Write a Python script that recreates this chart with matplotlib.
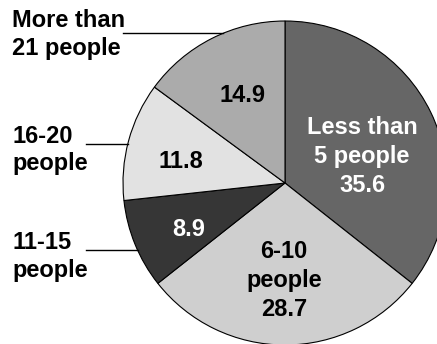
import numpy as np
import matplotlib.pyplot as plt

# group size shares (%), clockwise from 12 o'clock
categories = ["Less than\n5 people", "6-10\npeople", "11-15\npeople", "16-20\npeople", "More than\n21 people"]
shares = [35.6, 28.7, 8.9, 11.8, 14.9]
colors = ["#666666", "#cfcfcf", "#363636", "#e2e2e2", "#ababab"]
text_colors = ["white", "black", "white", "black", "black"]

W, H = 437, 344
plt.rcParams['font.family'] = ['Liberation Sans', 'DejaVu Sans']
FS = 17

fig = plt.figure(figsize=(W / 100, H / 100), dpi=100)
ax = fig.add_axes([0, 0, 1, 1])

# work in pixel units, y measured from the top
cx, cy, R = 285, 183, 162
ax.pie(shares, colors=colors, startangle=90, counterclock=False,
       center=(cx, H - cy), radius=R, frame=True,
       wedgeprops=dict(edgecolor='black', linewidth=0.8))
ax.set_xlim(0, W)
ax.set_ylim(0, H)
ax.set_aspect('equal')
ax.axis('off')


def put_lines(x, baselines, lines, color, ha):
    for yb, s in zip(baselines, lines):
        ax.text(x, H - yb, s, ha=ha, va='baseline', fontsize=FS,
                fontweight='bold', color=color)


# labels inside the wedges: (centre x, first baseline)
inside_pos = [(362, 134.5), (284, 258.5), (188.5, 236.5), (181, 167.5), (242.5, 101.5)]
step = 29
for i, (x, y0) in enumerate(inside_pos):
    lines = [f"{shares[i]}"]
    if i in (0, 1):
        lines = categories[i].split("\n") + lines
    put_lines(x, [y0 + k * step for k in range(len(lines))], lines,
              text_colors[i], 'center')

# outside labels with horizontal leader lines: (index, line y, first baseline, line start)
outside = [(4, 33.3, 27, 122.5), (3, 144.3, 142.7, 86), (2, 250.3, 249.3, 86)]
for i, ly, yb, x0 in outside:
    put_lines(12, [yb, yb + 27.5], categories[i].split("\n"), 'black', 'left')
    xe = cx - np.sqrt(R ** 2 - (ly - cy) ** 2)
    ax.plot([x0, xe], [H - ly, H - ly], color='black', lw=1.0)

fig.savefig("out.png", dpi=100)
